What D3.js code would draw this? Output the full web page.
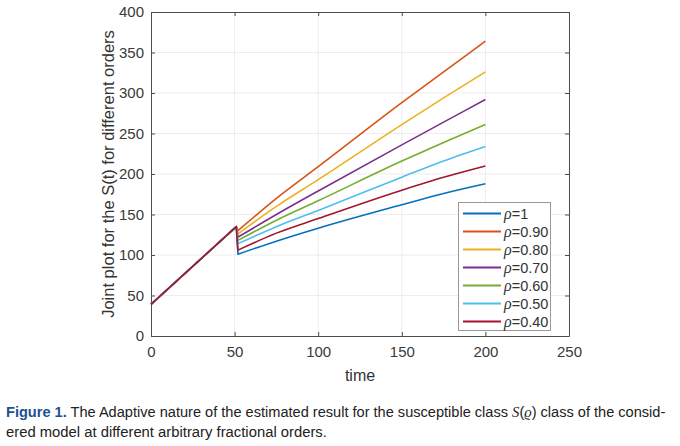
<!DOCTYPE html>
<html>
<head>
<meta charset="utf-8">
<script src="https://cdn.jsdelivr.net/npm/d3@7.9.0/dist/d3.min.js"></script>
<style>
  html, body { margin: 0; padding: 0; background: #fff; }
  svg { display: block; }
</style>
</head>
<body>
<svg id="chart" width="680" height="446"></svg>
<script>
// shared ramp before the switch at t≈51
const rampTimes = [0, 51];
const rampValues = [39, 135];

// after the drop
const times = [52, 75, 100, 150, 175, 200];
const rho1 = [101, 117, 133, 162, 176, 188];
const rho090 = [130, 170, 209, 288, 326, 364];
const rho080 = [126, 160, 193, 261, 294, 326];
const rho070 = [122, 150, 179, 236, 264, 292];
const rho060 = [118, 143, 167, 216, 239, 261];
const rho050 = [114, 135, 155, 196, 216, 234];
const rho040 = [106, 127, 145, 180, 196, 210];

const labels = ['1', '0.90', '0.80', '0.70', '0.60', '0.50', '0.40'];
const xTicks = [0, 50, 100, 150, 200, 250];
const yTicks = [0, 50, 100, 150, 200, 250, 300, 350, 400];

const seriesValues = [rho1, rho090, rho080, rho070, rho060, rho050, rho040];
const colors = ['#0072BD', '#D95319', '#EDB120', '#7E2F8E', '#77AC30', '#4DBEEE', '#A2142F'];

const svg = d3.select('#chart');
const plotLeft = 151, plotRight = 569, plotTop = 12, plotBottom = 336;

const x = d3.scaleLinear().domain([0, 250]).range([plotLeft, plotRight]);
const y = d3.scaleLinear().domain([0, 400]).range([plotBottom, plotTop]);

const axisColor = '#4d4d4d';
const font = 'Liberation Sans, Arial, sans-serif';

// grid
svg.append('g')
  .selectAll('line')
  .data(xTicks.slice(1, -1))
  .join('line')
  .attr('x1', d => x(d)).attr('x2', d => x(d))
  .attr('y1', plotTop).attr('y2', plotBottom)
  .attr('stroke', '#e8e8e8').attr('stroke-width', 0.8);
svg.append('g')
  .selectAll('line')
  .data(yTicks.slice(1, -1))
  .join('line')
  .attr('y1', d => y(d)).attr('y2', d => y(d))
  .attr('x1', plotLeft).attr('x2', plotRight)
  .attr('stroke', '#e8e8e8').attr('stroke-width', 0.8);

// series
const seriesData = seriesValues.map((vals, i) => {
  const pts = rampTimes.map((t, j) => ({ t, v: rampValues[j] }));
  times.forEach((t, j) => pts.push({ t, v: vals[j] }));
  return { label: labels[i], color: colors[i], pts };
});

const lineRamp = d3.line().x(d => x(d.t)).y(d => y(d.v));
const linePost = d3.line().x(d => x(d.t)).y(d => y(d.v)).curve(d3.curveMonotoneX);

svg.append('g')
  .selectAll('path')
  .data(seriesData)
  .join('path')
  .attr('d', d => {
    // straight ramp + drop, then smooth curve
    const ramp = lineRamp(d.pts.slice(0, 3));
    const post = linePost(d.pts.slice(2));
    return ramp + post.replace(/^M/, 'L');
  })
  .attr('fill', 'none')
  .attr('stroke', d => d.color)
  .attr('stroke-width', 1.6)
  .attr('stroke-linejoin', 'round');

// axes (box with inward ticks)
const xAxis = d3.axisBottom(x).tickValues(xTicks).tickSizeInner(-4).tickSizeOuter(0).tickPadding(10);
const yAxis = d3.axisLeft(y).tickValues(yTicks).tickSizeInner(-4).tickSizeOuter(0).tickPadding(7);

const gx = svg.append('g').attr('transform', `translate(0,${plotBottom})`).call(xAxis);
const gy = svg.append('g').attr('transform', `translate(${plotLeft},0)`).call(yAxis);
const gxTop = svg.append('g').attr('transform', `translate(0,${plotTop})`)
  .call(d3.axisTop(x).tickValues(xTicks).tickSizeInner(-4).tickSizeOuter(0).tickFormat(''));
const gyRight = svg.append('g').attr('transform', `translate(${plotRight},0)`)
  .call(d3.axisRight(y).tickValues(yTicks).tickSizeInner(-4).tickSizeOuter(0).tickFormat(''));

[gx, gy, gxTop, gyRight].forEach(g => {
  g.select('.domain').attr('stroke', axisColor).attr('stroke-width', 1);
  g.selectAll('.tick line').attr('stroke', axisColor);
  g.selectAll('.tick text')
    .attr('fill', '#3a3a3a')
    .style('font-family', font)
    .style('font-size', '15px');
});

// axis labels
svg.append('text')
  .attr('x', x(125)).attr('y', 381)
  .attr('text-anchor', 'middle')
  .attr('fill', '#333')
  .style('font-family', font).style('font-size', '16px')
  .text('time');

svg.append('text')
  .attr('transform', `translate(114,${(plotTop + plotBottom) / 2}) rotate(-90)`)
  .attr('text-anchor', 'middle')
  .attr('fill', '#333')
  .style('font-family', font).style('font-size', '16.5px')
  .text('Joint plot for the S(t) for different orders');

// legend
const legend = svg.append('g');
legend.append('rect')
  .attr('x', 458.5).attr('y', 202.5)
  .attr('width', 92).attr('height', 128)
  .attr('fill', '#fff').attr('stroke', '#999').attr('stroke-width', 1);

const rows = legend.selectAll('g')
  .data(seriesData)
  .join('g')
  .attr('transform', (d, i) => `translate(0,${213.5 + i * 18})`);

rows.append('line')
  .attr('x1', 463).attr('x2', 501)
  .attr('stroke', d => d.color).attr('stroke-width', 1.8);

const lt = rows.append('text')
  .attr('x', 504).attr('y', 5.5)
  .attr('fill', '#333')
  .style('font-family', font).style('font-size', '14.5px');
lt.append('tspan')
  .style('font-family', 'Liberation Serif, serif')
  .style('font-style', 'italic')
  .style('font-size', '16px')
  .text('ρ');
lt.append('tspan').text(d => '=' + d.label);

// caption: draw at natural width, then squeeze horizontally to fit
const capFont = 'Liberation Sans, Arial, sans-serif';
function fitLine(g, width) {
  const w = g.node().getBBox().width;
  g.attr('transform', `translate(6,0) scale(${width / w},1)`);
}

const cap1g = svg.append('g');
const cap1 = cap1g.append('text')
  .attr('x', 0).attr('y', 417)
  .attr('fill', '#222')
  .style('font-family', capFont).style('font-size', '15px');
cap1.append('tspan').attr('fill', '#1d4f91').style('font-weight', 'bold').text('Figure 1.');
cap1.append('tspan').text(' The Adaptive nature of the estimated result for the susceptible class ');
cap1.append('tspan').style('font-family', 'Liberation Serif, serif').style('font-style', 'italic').text('S');
cap1.append('tspan').text('(');
cap1.append('tspan').style('font-family', 'Liberation Serif, serif').style('font-style', 'italic').text('ϱ');
cap1.append('tspan').text(') class of the consid-');
fitLine(cap1g, 660);

const cap2g = svg.append('g');
cap2g.append('text')
  .attr('x', 0).attr('y', 437)
  .attr('fill', '#222')
  .style('font-family', capFont).style('font-size', '15px')
  .text('ered model at different arbitrary fractional orders.');
fitLine(cap2g, 321);
</script>
</body>
</html>
